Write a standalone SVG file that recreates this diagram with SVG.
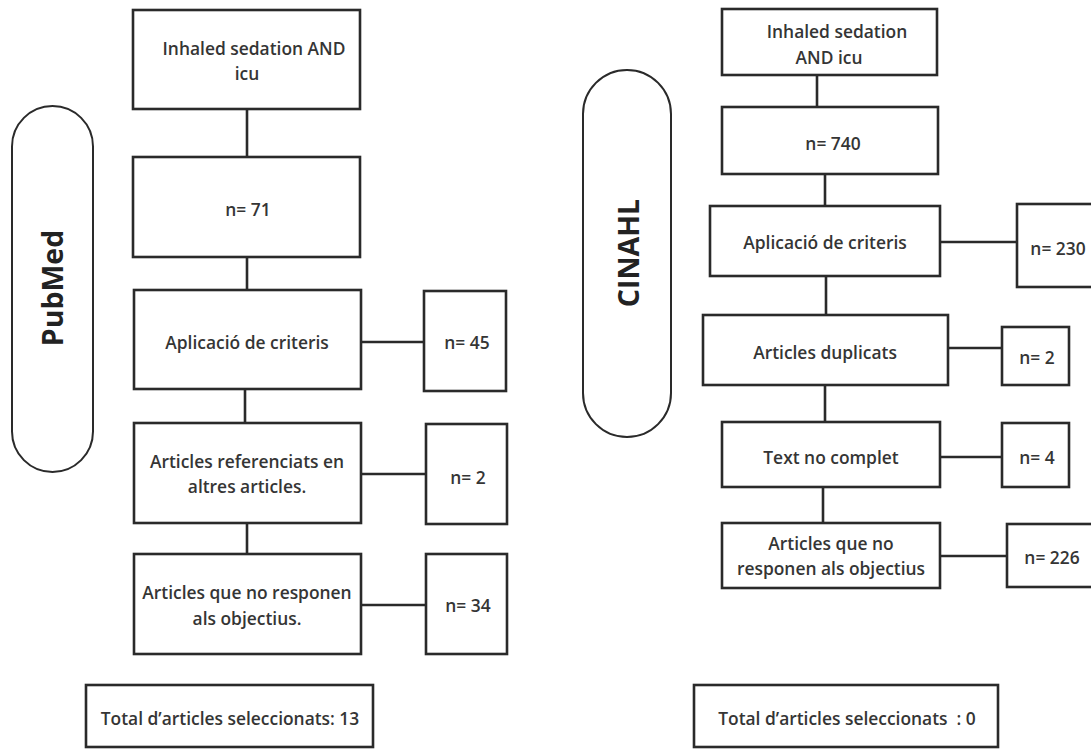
<svg xmlns="http://www.w3.org/2000/svg" width="1091" height="749" viewBox="0 0 1091 749">
<style>
.b{fill:#fff;stroke:#2a2a2a;stroke-width:2.6}
.p{fill:#fff;stroke:#2a2a2a;stroke-width:2}
.c{stroke:#2a2a2a;stroke-width:2.6;fill:none}
text{font-family:"Open Sans","Noto Sans",sans-serif;font-weight:600;font-size:17.4px;fill:#353535;text-anchor:middle;dominant-baseline:central}
.big{font-size:28.5px;font-weight:700;fill:#222}
</style>
<rect width="1091" height="749" fill="#fff"/>
<g id="connectors">
<line class="c" x1="247" y1="109" x2="247" y2="157"/>
<line class="c" x1="247" y1="257" x2="247" y2="290"/>
<line class="c" x1="361" y1="342" x2="424" y2="342"/>
<line class="c" x1="245" y1="389" x2="245" y2="423"/>
<line class="c" x1="361" y1="474" x2="426" y2="474"/>
<line class="c" x1="247" y1="523" x2="247" y2="554"/>
<line class="c" x1="361" y1="605" x2="426" y2="605"/>
<line class="c" x1="817" y1="75" x2="817" y2="107"/>
<line class="c" x1="825" y1="174" x2="825" y2="206"/>
<line class="c" x1="940" y1="242" x2="1017" y2="242"/>
<line class="c" x1="826" y1="276" x2="826" y2="315"/>
<line class="c" x1="948" y1="348" x2="1002" y2="348"/>
<line class="c" x1="825" y1="385" x2="825" y2="422"/>
<line class="c" x1="940" y1="457" x2="1002" y2="457"/>
<line class="c" x1="823" y1="487" x2="823" y2="523"/>
<line class="c" x1="940" y1="556" x2="1007" y2="556"/>
</g>
<g id="pubmed"><rect class="p" x="12" y="106" width="81" height="366" rx="40.5"/><text class="big" transform="translate(52 288) rotate(-90)">PubMed</text></g>
<g id="p1"><rect class="b" x="133" y="10" width="227" height="99"/><text x="254" y="48">Inhaled sedation AND</text><text x="247" y="73">icu</text></g>
<g id="p2"><rect class="b" x="133" y="157" width="227" height="100"/><text x="248" y="209">n= 71</text></g>
<g id="p3"><rect class="b" x="134" y="290" width="227" height="99"/><text x="247" y="342">Aplicació de criteris</text></g>
<g id="p3n"><rect class="b" x="424" y="291" width="82" height="100"/><text x="467" y="342">n= 45</text></g>
<g id="p4"><rect class="b" x="134" y="423" width="227" height="100"/><text x="247" y="461">Articles referenciats en</text><text x="247" y="486">altres articles.</text></g>
<g id="p4n"><rect class="b" x="426" y="424" width="81" height="100"/><text x="468" y="477">n= 2</text></g>
<g id="p5"><rect class="b" x="134" y="554" width="227" height="100"/><text x="247" y="592">Articles que no responen</text><text x="247" y="618">als objectius.</text></g>
<g id="p5n"><rect class="b" x="426" y="554" width="81" height="100"/><text x="468" y="605">n= 34</text></g>
<g id="ptotal"><rect class="b" x="86" y="685" width="287" height="62"/><text x="230" y="718">Total d’articles seleccionats: 13</text></g>
<g id="cinahl"><rect class="p" x="583" y="70" width="88" height="367" rx="44"/><text class="big" transform="translate(628 253) rotate(-90)">CINAHL</text></g>
<g id="c1"><rect class="b" x="722" y="9" width="215" height="66"/><text x="837" y="31">Inhaled sedation</text><text x="829" y="57">AND icu</text></g>
<g id="c2"><rect class="b" x="722" y="107" width="216" height="67"/><text x="833" y="143">n= 740</text></g>
<g id="c3"><rect class="b" x="710" y="206" width="230" height="70"/><text x="825" y="242">Aplicació de criteris</text></g>
<g id="c3n"><rect class="b" x="1017" y="204" width="80" height="83"/><text x="1058" y="248">n= 230</text></g>
<g id="c4"><rect class="b" x="703" y="315" width="245" height="70"/><text x="825" y="352">Articles duplicats</text></g>
<g id="c4n"><rect class="b" x="1002" y="327" width="67" height="58"/><text x="1037" y="357">n= 2</text></g>
<g id="c5"><rect class="b" x="722" y="422" width="218" height="65"/><text x="831" y="457">Text no complet</text></g>
<g id="c5n"><rect class="b" x="1002" y="423" width="67" height="64"/><text x="1037" y="457">n= 4</text></g>
<g id="c6"><rect class="b" x="722" y="523" width="218" height="65"/><text x="831" y="543">Articles que no</text><text x="831" y="568">responen als objectius</text></g>
<g id="c6n"><rect class="b" x="1007" y="524" width="90" height="63"/><text x="1052" y="557">n= 226</text></g>
<g id="ctotal"><rect class="b" x="694" y="685" width="304" height="62"/><text x="847" y="718">Total d’articles seleccionats&#160; : 0</text></g>
</svg>
